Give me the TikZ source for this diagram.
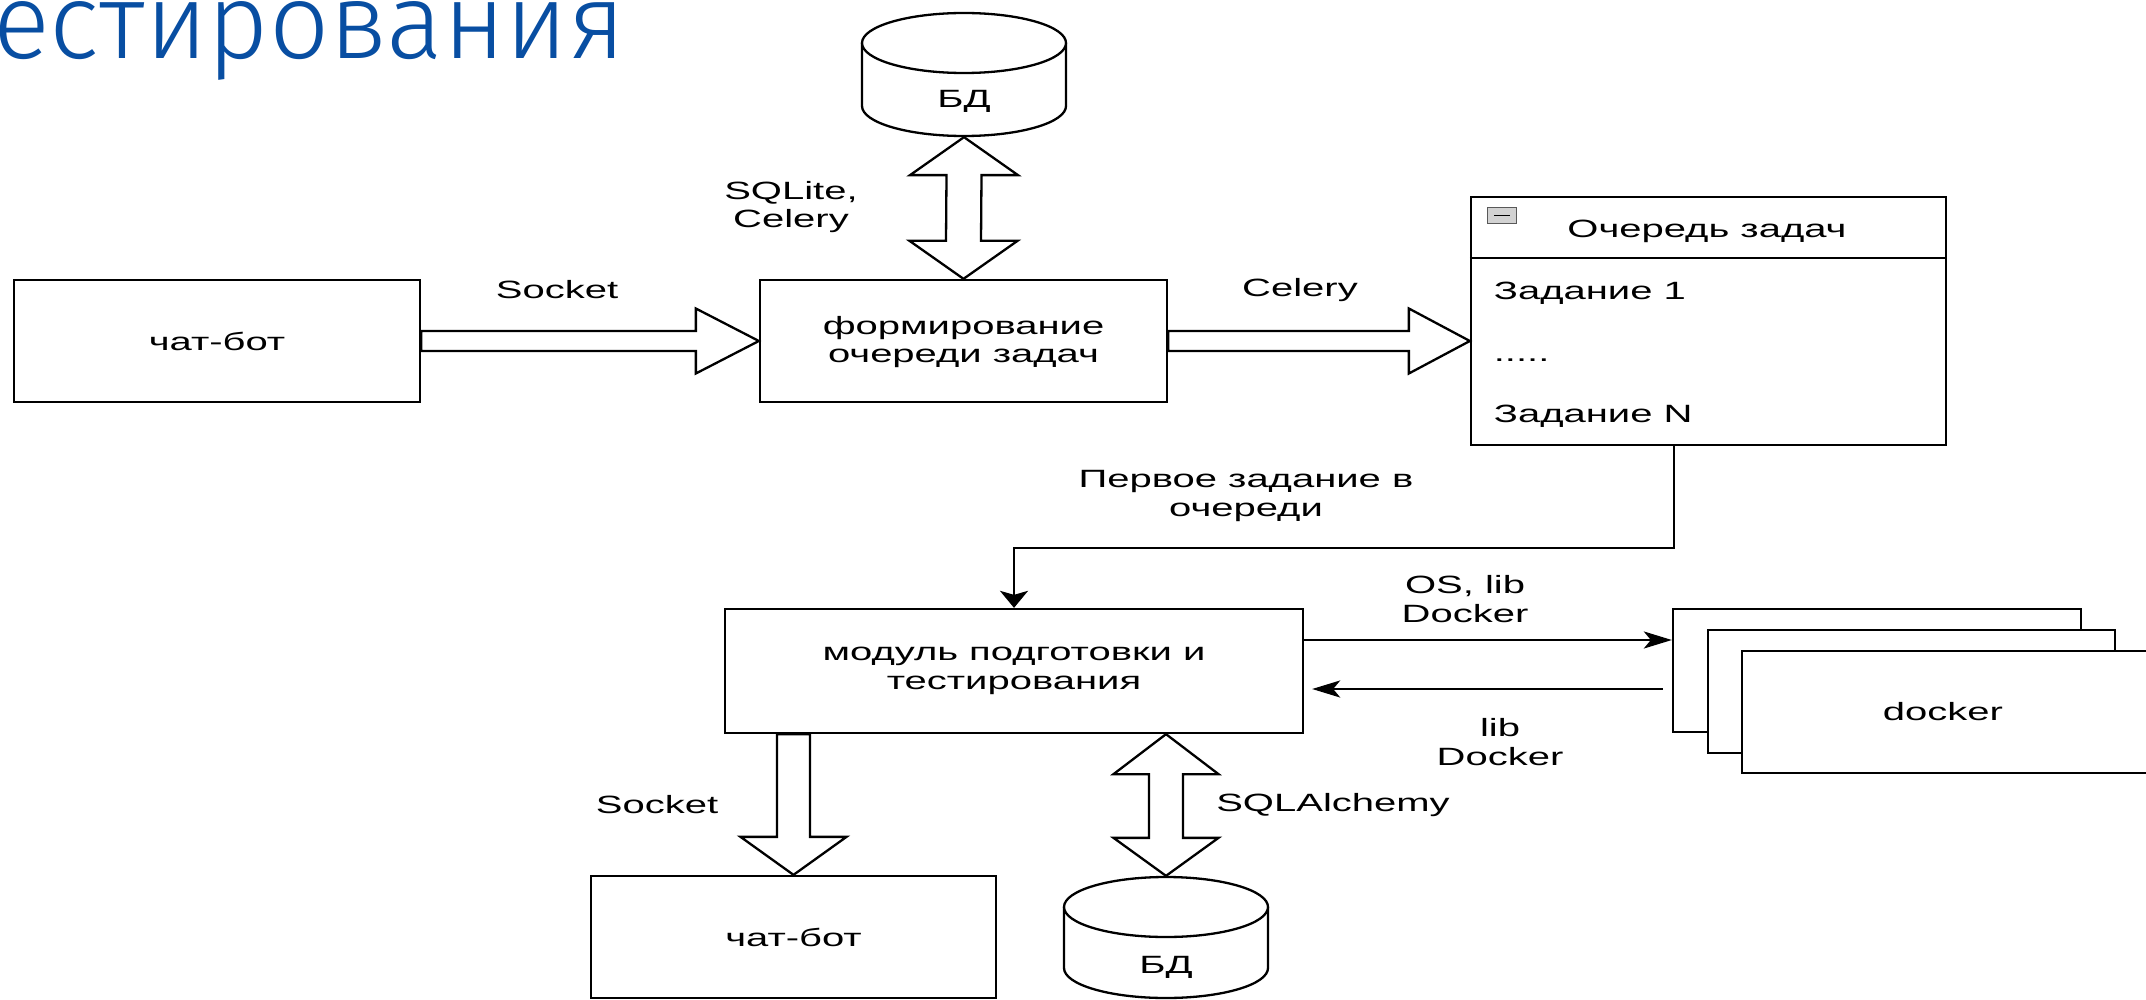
\documentclass[tikz,border=0pt]{standalone}
\usepackage{fontspec}
\setmainfont{Liberation Sans}
\newfontfamily\titlefont{Fira Sans Light}
\usetikzlibrary{calc,arrows.meta}
\definecolor{titleblue}{RGB}{8,78,162}
\begin{document}
\begin{tikzpicture}[x=1pt,y=-1pt,
  line width=2.3pt,
  box/.style={draw=black, fill=white, inner sep=0pt, line width=2.3pt},
  lbl/.style={font=\fontsize{25}{28.5}\selectfont, xscale=1.6, inner sep=0pt, align=center},
  blk/.style={draw=black, fill=white, line width=2.3pt, line join=miter},
  harr/.style={-{Stealth[length=28pt,width=17pt,inset=7pt]}, line width=2.3pt},
  varr/.style={-{Stealth[length=17pt,width=28pt,inset=4pt]}, line width=2.3pt},
  cyl/.style={draw=black, fill=white, line width=2.3pt},
]
\fill[white] (0,0) rectangle (2146,1000);
\useasboundingbox (0,0) rectangle (2146,1000);

% title
\node[anchor=base west, inner sep=0pt, text=titleblue] (title) at (-8,59)
  {\resizebox{632pt}{57pt}{\titlefont естирования}};

% top database
\node[inner sep=0pt, minimum width=204pt, minimum height=123pt] (db1) at (964,74.5) {};
\draw[cyl] (862,43) -- (862,106) .. controls (862,122.57) and (907.67,136) .. (964,136)
  .. controls (1020.33,136) and (1066,122.57) .. (1066,106) -- (1066,43);
\draw[cyl] (964,43) ellipse [x radius=102, y radius=30];
\node[lbl] (db1t) at (964,101) {БД};

% boxes
\node[box, minimum width=406pt, minimum height=122pt] (bot1) at (217,341) {};
\node[lbl] (bot1t) at (bot1.center) {чат-бот};
\node[box, minimum width=407pt, minimum height=122pt] (form) at (963.5,341) {};
\node[lbl] (formt) at (963.5,342) {формирование\\очереди задач};

% queue
\node[box, minimum width=475pt, minimum height=248pt] (queue) at (1708.5,321) {};
\draw ($(queue.north west)+(0,62)$) -- ($(queue.north east)+(0,62)$);
\node[draw=gray!70!black, fill=gray!35, line width=1pt, minimum width=29pt, minimum height=16pt, inner sep=0pt] (qicon) at (1502,215.5) {};
\draw[line width=1.6pt] ($(qicon.center)+(-8,0)$) -- ($(qicon.center)+(8,0)$);
\node[lbl, anchor=base] (qhead) at (1707,238) {Очередь задач};
\node[lbl, anchor=base west] (q1) at (1492,299) {Задание 1};
\node[lbl, anchor=base west] (qd) at (1492,361) {.....};
\node[lbl, anchor=base west] (qn) at (1492,422) {Задание N};

% module
\node[box, minimum width=578pt, minimum height=124pt] (mod) at (1014,671) {};
\node[lbl] (modt) at (1014,671) {модуль подготовки и\\тестирования};

% docker stack
\node[box, minimum width=408pt, minimum height=123pt] (dk1) at (1877,670.5) {};
\node[box, minimum width=407pt, minimum height=123pt] (dk2) at (1911.5,691.5) {};
\node[box, minimum width=408pt, minimum height=122pt] (dk3) at (1946,712) {};
\node[lbl] (dkt) at (1943,712) {docker};

% bottom chat-bot
\node[box, minimum width=405pt, minimum height=122pt] (bot2) at (793.5,937) {};
\node[lbl] (bot2t) at (bot2.center) {чат-бот};

% bottom database
\node[inner sep=0pt, minimum width=204pt, minimum height=121pt] (db2) at (1166,937.5) {};
\draw[cyl] (1064,907) -- (1064,968) .. controls (1064,984.57) and (1109.67,998) .. (1166,998)
  .. controls (1222.33,998) and (1268,984.57) .. (1268,968) -- (1268,907);
\draw[cyl] (1166,907) ellipse [x radius=102, y radius=30];
\node[lbl] (db2t) at (1166,967) {БД};

% block arrows
\draw[blk] ($(bot1.east)+(0,-10)$) -- ($(form.west)+(-63,-10)$) -- ($(form.west)+(-63,-32.5)$)
  -- (form.west) -- ($(form.west)+(-63,32.5)$) -- ($(form.west)+(-63,10)$) -- ($(bot1.east)+(0,10)$) -- cycle;
\coordinate (a2t) at (queue.west |- form.east);
\draw[blk] ($(form.east)+(0,-10)$) -- ($(a2t)+(-61,-10)$) -- ($(a2t)+(-61,-32.5)$)
  -- (a2t) -- ($(a2t)+(-61,32.5)$) -- ($(a2t)+(-61,10)$) -- ($(form.east)+(0,10)$) -- cycle;
\draw[blk] (db1.south) -- ++(54,38) -- ++(-36.5,0) -- ($(form.north)+(17.5,-38)$) -- ++(36.5,0)
  -- (form.north) -- ++(-54,-38) -- ++(36.5,0) -- ($(db1.south)+(-17.5,38)$) -- ++(-36.5,0) -- cycle;
\coordinate (s2a) at (bot2.north |- mod.south);
\draw[blk] ($(s2a)+(-16.5,0)$) -- ($(bot2.north)+(-16.5,-38)$) -- ++(-36.5,0) -- (bot2.north)
  -- ($(bot2.north)+(53,-38)$) -- ++(-36.5,0) -- ($(s2a)+(16.5,0)$) -- cycle;
\coordinate (s3a) at (db2.north |- mod.south);
\draw[blk] (s3a) -- ++(52.5,40) -- ++(-35.5,0) -- ($(db2.north)+(17,-38)$) -- ++(35.5,0)
  -- (db2.north) -- ++(-52.5,-38) -- ++(35.5,0) -- ($(s3a)+(-17,40)$) -- ++(-35.5,0) -- cycle;

% thin arrows
\coordinate (qout) at ($(queue.south)+(-34.5,0)$);
\coordinate (elb) at ($(qout)+(0,102)$);
\draw[varr] (qout) -- (elb) -| (mod.north);
\coordinate (ra) at ($(mod.east)+(0,-31)$);
\draw[harr] (ra) -- (ra -| dk1.west);
\coordinate (la) at ($(mod.east)+(0,18)$);
\draw[harr] ($(la -| dk1.west)+(-9,0)$) -- ($(la)+(8,0)$);

% labels
\node[lbl] (lsock1) at (557,290) {Socket};
\node[lbl] (lsql) at (791,207) {SQLite,\\Celery};
\node[lbl] (lcel) at (1300,290) {Celery};
\node[lbl] (lfirst) at (1246,496) {Первое задание в\\очереди};
\node[lbl] (los) at (1465,599) {OS, lib\\Docker};
\node[lbl] (llib) at (1500,742) {lib\\Docker};
\node[lbl] (lsock2) at (657,805) {Socket};
\node[lbl] (lalch) at (1333,805) {SQLAlchemy};
\end{tikzpicture}
\end{document}
